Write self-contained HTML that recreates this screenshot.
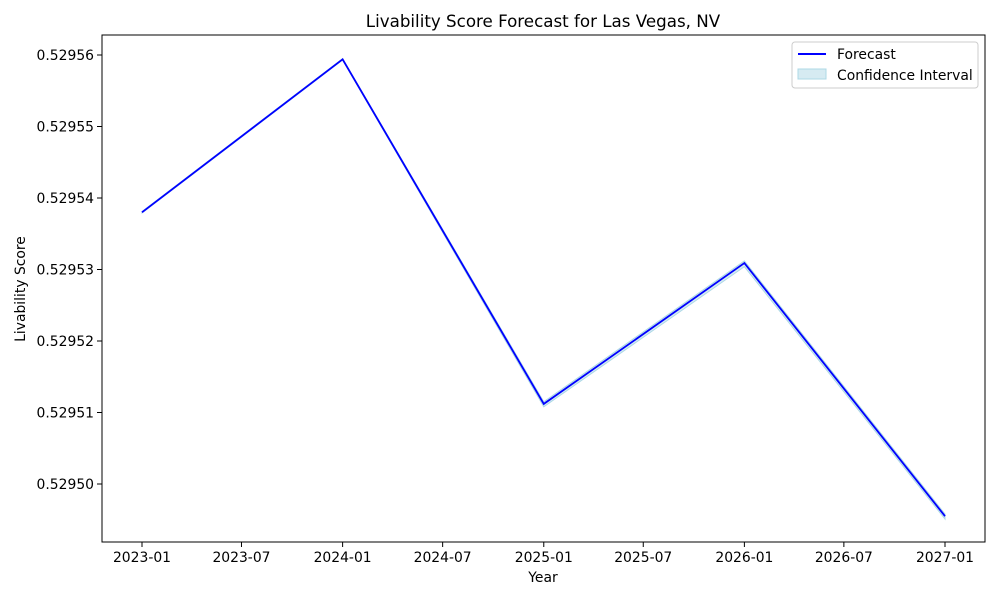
<!DOCTYPE html>
<html><head><meta charset="utf-8"><style>
body{margin:0;background:#fff;font-family:"DejaVu Sans",sans-serif}
svg text{font-family:"DejaVu Sans",sans-serif;fill:#000}
</style></head><body>
<svg id="chart" width="1000" height="600">
<rect width="1000" height="600" fill="#fff"/>
<text x="543" y="27" font-size="16.7" text-anchor="middle">Livability Score Forecast for Las Vegas, NV</text>
<g id="plot"></g>
<rect x="102" y="35" width="883" height="507" fill="none" stroke="#000" stroke-width="1"/>
<text x="543" y="582" font-size="13.9" text-anchor="middle">Year</text>
<text x="25" y="289" font-size="13.9" text-anchor="middle" transform="rotate(-90 25 289)">Livability Score</text>
<g>
<rect x="792" y="42" width="186" height="46" fill="#fff" stroke="#ccc" rx="3"/>
<line x1="798" y1="54" x2="826" y2="54" stroke="#0000ff" stroke-width="2"/>
<text x="837" y="59" font-size="13.9">Forecast</text>
<rect x="798" y="69" width="28" height="10" fill="#add8e6" fill-opacity="0.5" stroke="#add8e6"/>
<text x="837" y="80" font-size="13.9">Confidence Interval</text>
</g>
</svg>
<script>
const dates = ["2023-01-01","2024-01-01","2025-01-01","2026-01-01","2027-01-01"];
const forecast = [0.5295380,0.5295594,0.5295112,0.5295309,0.5294955];
const lower = [0.5295379,0.5295593,0.5295108,0.5295304,0.5294951];
const upper = [0.5295381,0.5295595,0.5295115,0.5295312,0.5294958];
const xTickLabels = ["2023-01","2023-07","2024-01","2024-07","2025-01","2025-07","2026-01","2026-07","2027-01"];
const yTicks = [0.52950,0.52951,0.52952,0.52953,0.52954,0.52955,0.52956];

const NS="http://www.w3.org/2000/svg";
const g=document.getElementById('plot');
const t0=Date.parse("2023-01-01"), t1=Date.parse("2027-01-01");
function xs(d){return 142+(Date.parse(d)-t0)/(t1-t0)*803;}
function ys(v){return 484-(v-0.52950)*7150000;}
function mk(tag,attrs){const e=document.createElementNS(NS,tag);for(const k in attrs)e.setAttribute(k,attrs[k]);g.appendChild(e);return e;}

yTicks.forEach(v=>{
  const y=ys(v);
  const l=mk('line',{x1:97,x2:102,y1:y,y2:y,stroke:'#000'});
  
  
  const t=mk('text',{x:94,y:y+5,'font-size':13.9,'text-anchor':'end'});
  t.textContent=v.toFixed(5);
  
  
});
xTickLabels.forEach(s=>{
  const x=xs(s+"-01");
  const l=mk('line',{x1:x,x2:x,y1:542,y2:547,stroke:'#000'});
  
  
  const t=mk('text',{x:x,y:562,'font-size':13.9,'text-anchor':'middle'});
  t.textContent=s;
  
  
});
let band=dates.map((d,i)=>xs(d)+','+ys(upper[i])).join(' ')+' '+dates.slice().reverse().map((d,j)=>{const i=dates.length-1-j;return xs(d)+','+ys(lower[i]);}).join(' ');
const b=mk('polygon',{points:band,fill:'#add8e6','fill-opacity':0.5,stroke:'#add8e6','stroke-width':1});


const line=mk('polyline',{points:dates.map((d,i)=>xs(d)+','+ys(forecast[i])).join(' '),fill:'none',stroke:'#0000ff','stroke-width':1.8});


</script>
</body></html>
